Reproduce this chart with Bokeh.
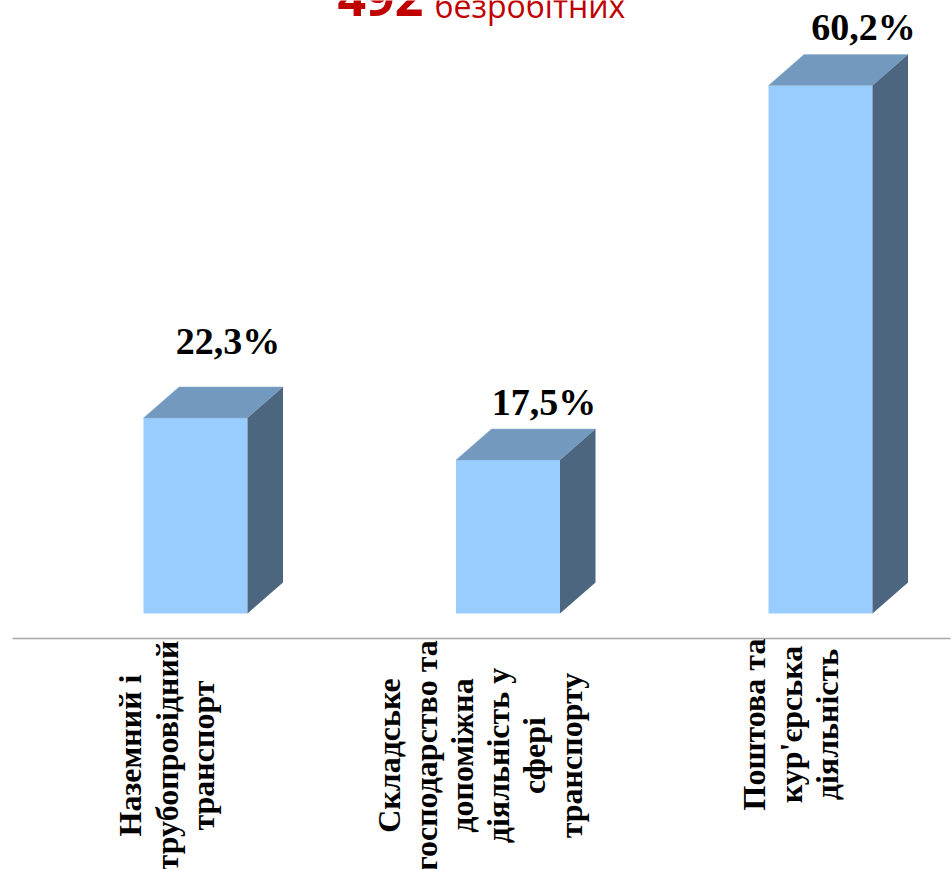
from bokeh.plotting import figure
from bokeh.embed import file_html
from bokeh.resources import INLINE
from bokeh.models import Range1d
import math

categories = [
    ["Наземний і", "трубопровідний", "транспорт"],
    ["Складське", "господарство та", "допоміжна", "діяльність у", "сфері", "транспорту"],
    ["Поштова та", "кур'єрська", "діяльність"],
]
values = [22.3, 17.5, 60.2]
value_labels = ["22,3%", "17,5%", "60,2%"]
title_number = "492"
title_word = "безробітних"

W, H = 952, 869
PX_X = 312.5   # pixels per category step
PX_Y = 8.77    # pixels per percentage point
X0_PX, Y0_PX = 195.0, 613.0
p = figure(width=W, height=H, output_backend="svg", toolbar_location=None, min_border=0,
           x_range=Range1d(-X0_PX / PX_X, (W - X0_PX) / PX_X),
           y_range=Range1d((H - Y0_PX) / -PX_Y, Y0_PX / PX_Y),
           margin=(-8, 0, 0, -8), styles={"position": "relative", "left": "8px", "top": "8px"})
p.axis.visible = False
p.grid.visible = False
p.outline_line_color = None

xs = list(range(len(values)))
half = 52 / PX_X
dx, dy = 35.5 / PX_X, 31 / PX_Y

p.quad(left=[x - half for x in xs], right=[x + half for x in xs], bottom=[0] * 3, top=values,
       fill_color="#99CCFF", line_color=None)
p.patches(xs=[[x - half, x - half + dx, x + half + dx, x + half] for x in xs],
          ys=[[v, v + dy, v + dy, v] for v in values],
          fill_color="#7399BF", line_color="#8FB0D0", line_width=0.5)
p.patches(xs=[[x + half, x + half + dx, x + half + dx, x + half] for x in xs],
          ys=[[0, dy, v + dy, v] for v in values],
          fill_color="#4D6680", line_color=None)

# baseline axis
axis_y = -25 / PX_Y
p.segment(x0=[(12 - X0_PX) / PX_X], x1=[(950 - X0_PX) / PX_X], y0=[axis_y], y1=[axis_y],
          line_color="#A6A6A6", line_width=1.5)

# value labels
lab_off = [(32.5, 77), (36, 58), (43, 59)]
for x, v, t, (ox, oy) in zip(xs, values, value_labels, lab_off):
    p.text(x=[x], y=[v], text=[t], x_offset=ox, y_offset=-oy, text_align="center",
           text_baseline="middle", text_font_size="38px", text_font_style="bold",
           text_color="#000000", text_font={"value": "Liberation Serif"})

# category labels: rotated lines
line_step = 36.3
centre_off = [-29, -28, -30]
centre_y = [755, 755, 724]
for x, lines, co, cy in zip(xs, categories, centre_off, centre_y):
    n = len(lines)
    for i, ln in enumerate(lines):
        off = co + (i - (n - 1) / 2) * line_step
        p.text(x=[x], y=[(Y0_PX - cy) / PX_Y], text=[ln], x_offset=off, y_offset=0,
               angle=math.pi / 2, text_align="center", text_baseline="middle",
               text_font_size="32px", text_font_style="bold", text_color="#000000",
               text_font={"value": "Liberation Serif"})

# title
def px_x(px):
    return (px - X0_PX) / PX_X
def px_y(py):
    return (Y0_PX - py) / PX_Y
p.text(x=[px_x(337)], y=[px_y(-3)], text=[title_number], text_font={"value": "Open Sans"},
       text_font_style="bold", text_font_size="50px", text_color="#C00000", text_baseline="alphabetic")
p.text(x=[px_x(434)], y=[px_y(5)], text=[title_word], text_font={"value": "Open Sans"},
       text_font_size="32px", text_color="#C00000", text_baseline="alphabetic")

open("out.html", "w").write(file_html(p, INLINE))
